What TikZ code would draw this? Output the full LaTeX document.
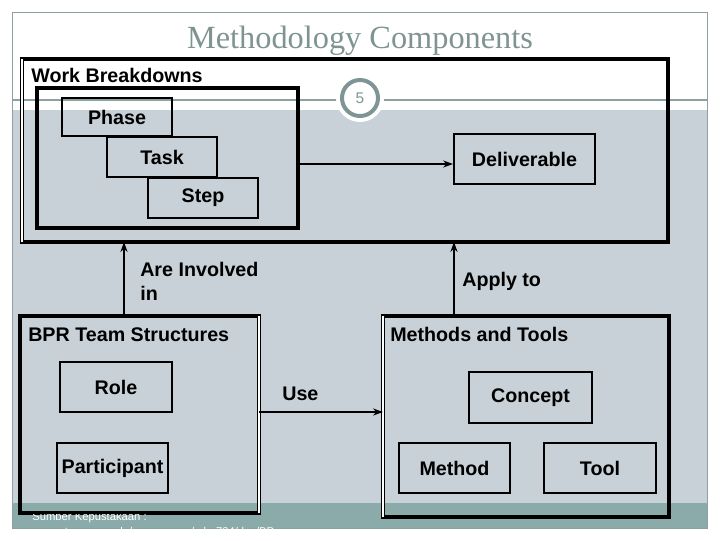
\documentclass[tikz,border=0pt]{standalone}
\usepackage{fontspec}
\setmainfont{Liberation Sans}
\newfontfamily\titlefont{Liberation Serif}
\usepackage{xcolor}
\usepackage{tikz}
\usetikzlibrary{shapes, arrows, arrows.meta, positioning, calc}

\definecolor{slidegray}{HTML}{C7D1D7}
\definecolor{bandteal}{HTML}{8BABAB}
\definecolor{titlegray}{HTML}{7F9393}
\definecolor{ringgray}{HTML}{7F9595}
\definecolor{linegray}{HTML}{8FA0A0}

\begin{document}
\begin{tikzpicture}[x=0.025cm, y=-0.025cm,
  box/.style={draw, rectangle, line width=1.4pt, minimum width=2.775cm, minimum height=1.25cm, inner sep=0pt, font=\fontsize{14}{16}\selectfont\bfseries},
  holder/.style={rectangle, inner sep=0pt, outer sep=0pt},
  outline/.style={line width=3pt, line cap=rect},
  twin/.style={line width=0.6pt, double, double distance=1.2pt},
  lbl/.style={inner sep=0pt, font=\fontsize{14}{17}\selectfont\bfseries},
  link/.style={-{Stealth[length=7pt, width=5pt]}, line width=1.3pt}]
\useasboundingbox (0,0) rectangle (720,540);
% slide background
\fill[white] (0,0) rectangle (720,540);
\fill[slidegray] (12,110) rectangle (707,503);
\fill[bandteal] (12,503) rectangle (707,528);
\draw[linegray, line width=0.6pt] (12,12) rectangle (707,528);
\draw[linegray, line width=0.8pt] (12,100) -- (707,100);
\node[circle, fill=white, minimum size=1.2cm] (badgebg) at (360,98) {};
\node[circle, draw=ringgray, line width=0.1cm, fill=white, minimum size=0.9cm, inner sep=0pt, text=ringgray, font=\fontsize{11}{12}\selectfont] (badge) at (360,98) {5};
\node[anchor=base, text=titlegray, font=\titlefont\fontsize{23}{26}\selectfont] (title) at (360,48) {Methodology Components};

% Work breakdowns
\node[holder, minimum width=16.15cm, minimum height=4.575cm] (wb) at (345,150.5) {};
\draw[outline] (wb.north west) -- (wb.north east) -- (wb.south east) -- (wb.south west);
\draw[twin] (wb.north west) -- (wb.south west);
\node[lbl, anchor=base west] (wbtitle) at (31,82) {Work Breakdowns};
\node[draw, outline, minimum width=6.525cm, minimum height=3.5cm] (steps) at (167.5,158) {};
\node[box, minimum width=2.75cm, minimum height=0.95cm] (phase) at (117,117) {Phase};
\node[box, minimum width=2.75cm, minimum height=1cm] (task) at (162,157) {Task};
\node[box, minimum width=2.75cm, minimum height=1cm] (step) at (203,198) {Step};
\node[box, minimum width=3.525cm] (deliv) at (524.5,159) {Deliverable};
\draw[link] ([yshift=-0.15cm]steps.east) -- ([yshift=-0.15cm]steps.east -| deliv.west);

% BPR team structures
\node[holder, minimum width=5.975cm, minimum height=4.925cm] (team) at (139.5,414.5) {};
\draw[outline] (team.north east) -- (team.north west) -- (team.south west) -- (team.south east);
\draw[twin] (team.north east) -- (team.south east);
\node[lbl, anchor=base west] (teamtitle) at (28,341) {BPR Team Structures};
\node[box, minimum width=2.8cm] (role) at (116,387) {Role};
\node[box] (part) at (112.5,468) {Participant};

% Methods and tools
\node[holder, minimum width=7.15cm, minimum height=5.025cm] (mt) at (526,416.5) {};
\draw[outline] (mt.north west) -- (mt.north east) -- (mt.south east) -- (mt.south west);
\draw[twin] (mt.north west) -- (mt.south west);
\node[lbl, anchor=base west] (mttitle) at (390,341) {Methods and Tools};
\node[box, minimum width=3.075cm, minimum height=1.275cm] (concept) at (530.5,397.5) {Concept};
\node[box] (method) at (454.5,468) {Method};
\node[box, minimum width=2.8cm] (tool) at (600,468) {Tool};

% relations
\draw[link] ([xshift=-0.3875cm]team.north) -- ([xshift=-0.3875cm]team.north |- wb.south);
\node[lbl, anchor=north west, align=left] (involved) at (140,262) {Are Involved\\in};
\draw[link] ([xshift=-1.8cm]mt.north) -- ([xshift=-1.8cm]mt.north |- wb.south);
\node[lbl, anchor=base west] (apply) at (462,286) {Apply to};
\draw[link] ([yshift=0.0625cm]team.east) -- ([yshift=0.0625cm]team.east -| mt.west);
\node[lbl, anchor=base west] (use) at (282,400) {Use};

% source line
\begin{scope}
\clip (12,514) rectangle (707,528);
\node[anchor=north west, align=left, inner sep=0pt, text=white, font=\fontsize{8}{10.7}\selectfont] (source) at (32,512) {Sumber Kepustakaan :\\www.stan.www.edu/ecommerce/mba734/doc/BP};
\end{scope}
\end{tikzpicture}
\end{document}
